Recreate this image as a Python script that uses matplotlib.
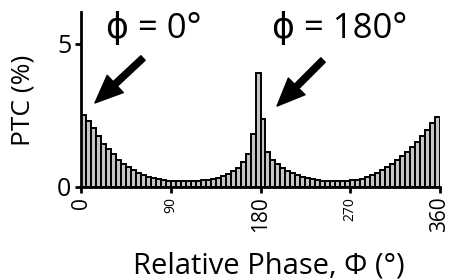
import matplotlib
matplotlib.use("Agg")
import matplotlib.pyplot as plt
import numpy as np

plt.rcParams['font.family'] = ['Open Sans', 'DejaVu Sans']

bin_width = 5
bin_starts = np.arange(0, 360, bin_width)
ptc_0_90 = [2.52, 2.32, 2.05, 1.78, 1.52, 1.32, 1.14, 0.96, 0.82, 0.70, 0.59, 0.49,
            0.41, 0.35, 0.30, 0.27, 0.24, 0.22]
ptc_90_180 = [0.21, 0.20, 0.20, 0.20, 0.21, 0.22, 0.24, 0.26, 0.29, 0.33, 0.38, 0.45,
              0.55, 0.68, 0.88, 1.15, 1.85, 3.98]
ptc_180_270 = [2.37, 1.22, 0.94, 0.80, 0.68, 0.57, 0.48, 0.41, 0.35, 0.30, 0.27, 0.24,
               0.22, 0.21, 0.20, 0.20, 0.20, 0.20]
ptc_270_360 = [0.23, 0.26, 0.29, 0.35, 0.41, 0.49, 0.59, 0.70, 0.82, 0.94, 1.08,
               1.23, 1.40, 1.58, 1.78, 2.01, 2.25, 2.46]
ptc = ptc_0_90 + ptc_90_180 + ptc_180_270 + ptc_270_360

major_ticks = [0, 180, 360]
minor_ticks = [90, 270]

fig = plt.figure(figsize=(4.49, 2.79), dpi=100)
ax = fig.add_axes([81/449, 1-187/279, (440-81)/449, (187-12)/279])

ax.bar(bin_starts, ptc, width=bin_width, align='edge', color='#c4c4c4',
       edgecolor='black', linewidth=1.4)

ax.set_xlim(0, 360)
ax.set_ylim(0, (187-12)/28.6)
for s in ['top', 'right']:
    ax.spines[s].set_visible(False)
for s in ['left', 'bottom']:
    ax.spines[s].set_linewidth(2.0)

ax.set_yticks([0, 5])
ax.set_yticklabels(['0', '5'], fontsize=18)
ax.tick_params(axis='y', length=4, width=2, pad=3)

ax.set_xticks(major_ticks + minor_ticks)
labels = ax.set_xticklabels([str(t) for t in major_ticks + minor_ticks], rotation=90)
for lab, t in zip(labels, major_ticks + minor_ticks):
    lab.set_fontsize(15 if t in major_ticks else 10)
ax.tick_params(axis='x', length=4, width=2, pad=3)

fig.text(269/449, 1-266/279, 'Relative Phase, \u03a6 (\u00b0)', fontsize=21,
         ha='center', va='center')
fig.text(23/449, 1-100/279, 'PTC (%)', fontsize=19, rotation=90,
         ha='center', va='center')

ax.text(25, 5.52, '\u03d5 = 0\u00b0', fontsize=25, ha='left', va='center',
        clip_on=False)
ax.text(191.6, 5.52, '\u03d5 = 180\u00b0', fontsize=25, ha='left', va='center',
        clip_on=False)

arrow = dict(facecolor='black', edgecolor='black', width=4.5, headwidth=17,
             headlength=20, shrink=0)
ax.annotate('', xy=(14.0, 2.94), xytext=(62.2, 4.51), arrowprops=arrow,
            annotation_clip=False)
ax.annotate('', xy=(196.6, 2.83), xytext=(242.7, 4.44), arrowprops=arrow,
            annotation_clip=False)

fig.savefig('out.png', dpi=100)
